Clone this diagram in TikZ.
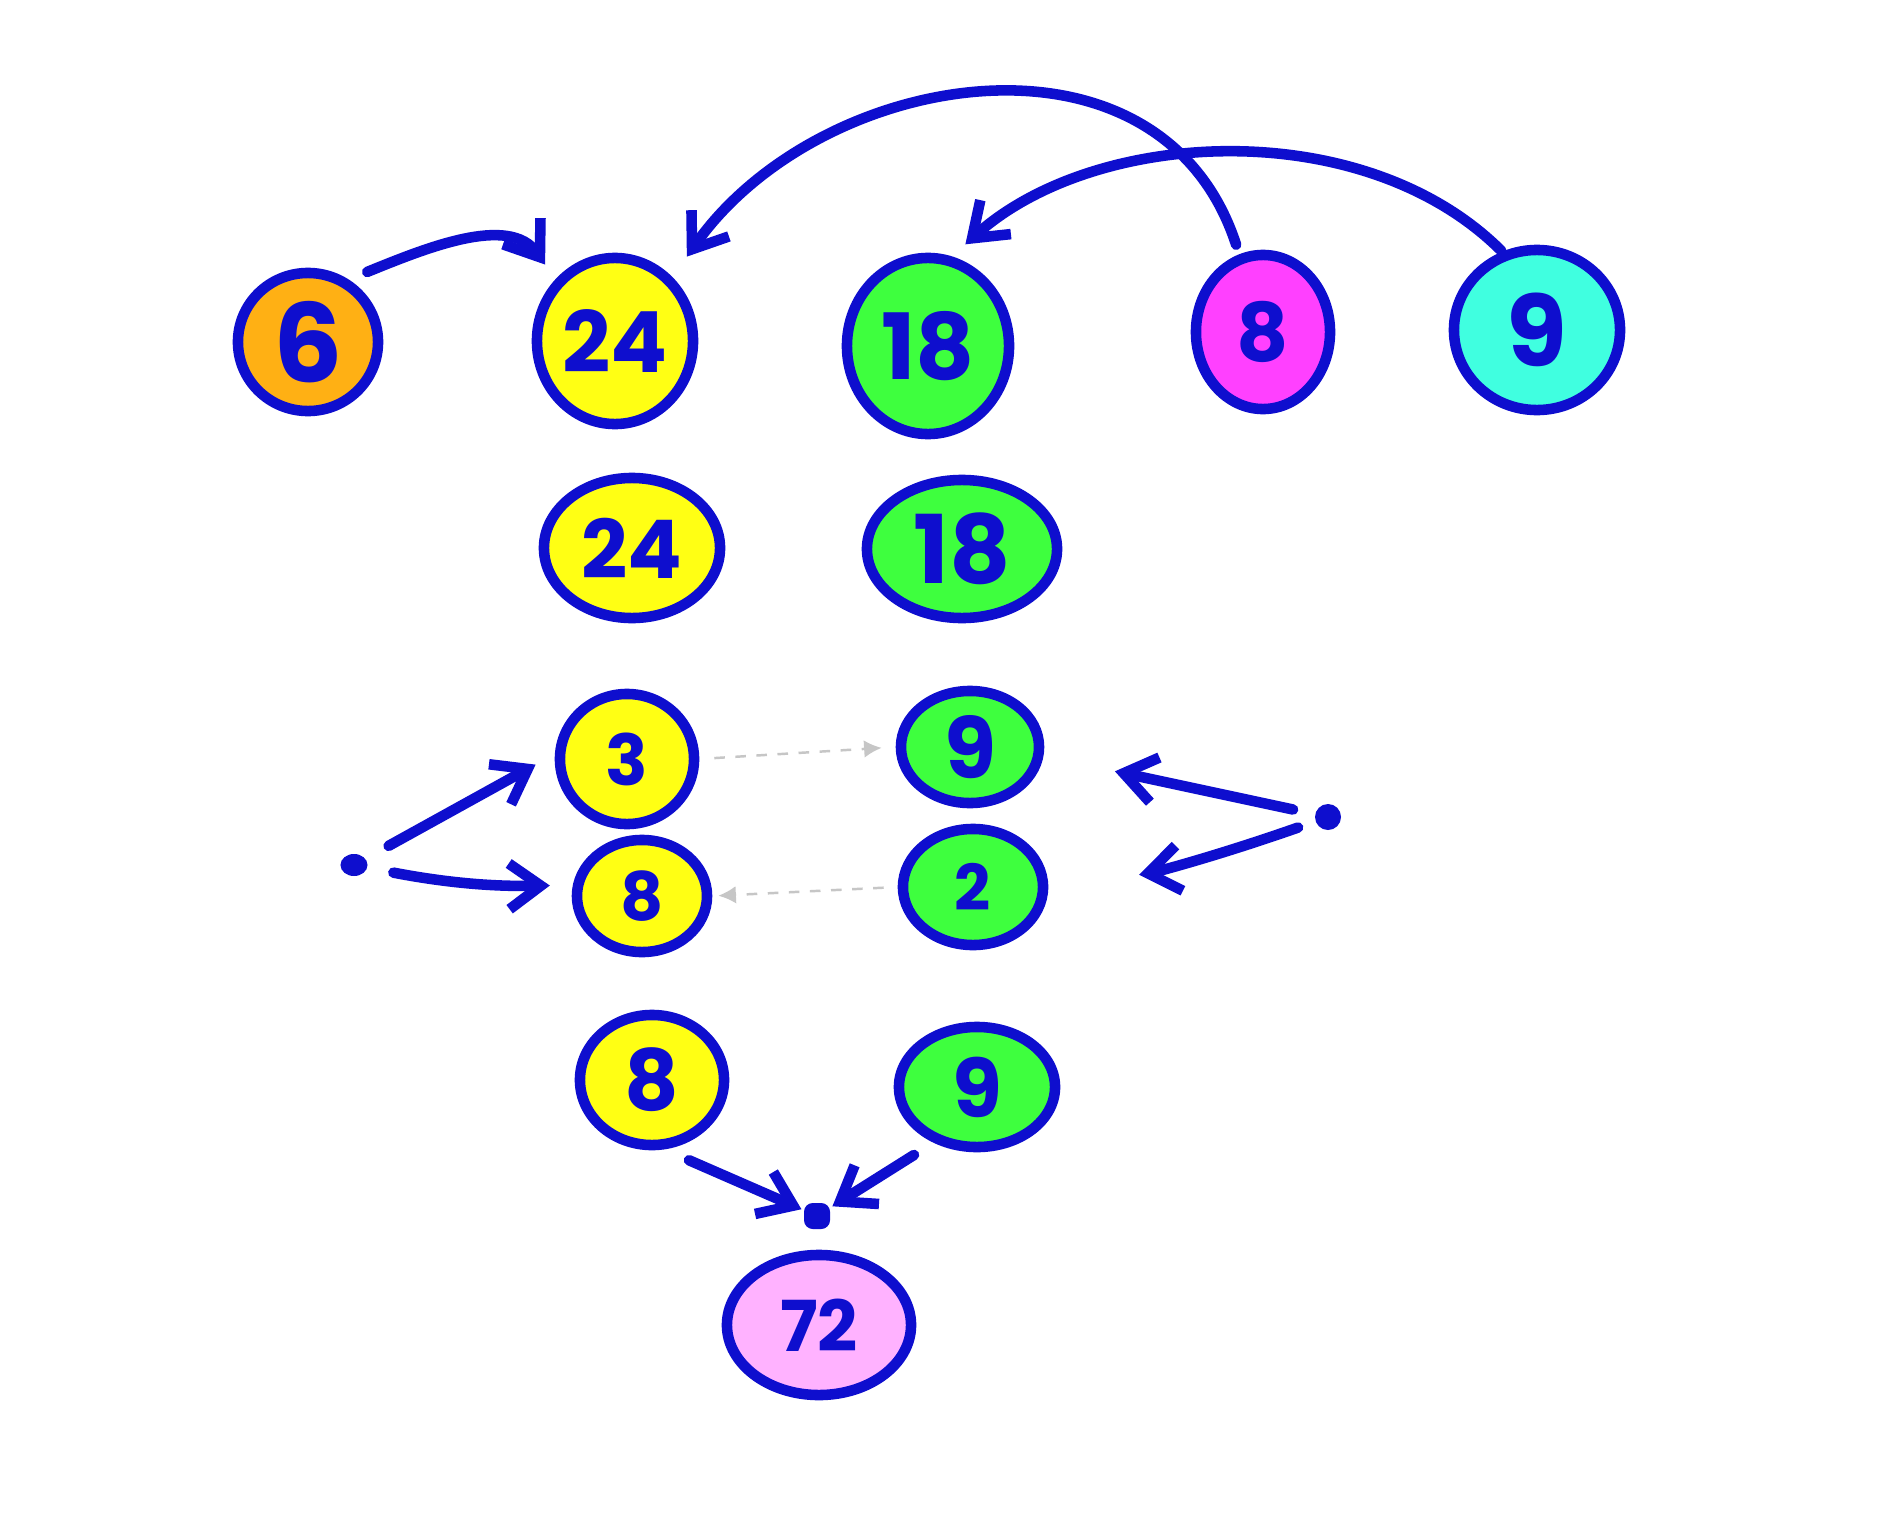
\documentclass[tikz,border=0pt]{standalone}
\usepackage{fontspec}
\setmainfont{Poppins}
\usetikzlibrary{shapes.geometric,arrows.meta}
\definecolor{ink}{RGB}{14,14,206}
\definecolor{corange}{RGB}{255,176,20}
\definecolor{cyellow}{RGB}{255,255,20}
\definecolor{cgreen}{RGB}{62,255,62}
\definecolor{cmagenta}{RGB}{255,64,255}
\definecolor{ccyan}{RGB}{64,255,224}
\definecolor{cpink}{RGB}{255,178,255}
\newcommand{\fsz}[1]{\fontsize{#1}{#1}\selectfont}
\begin{document}
\begin{tikzpicture}[x=0.01cm,y=-0.01cm,
  egg/.style={ellipse,draw=ink,line width=3pt,inner sep=0pt,text=ink,font=\bfseries},
  arr/.style={draw=ink,line width=3pt,line cap=round,-{Straight Barb[length=9pt,width=13pt,line width=3pt]}},
  ghost/.style={draw=gray!45,line width=0.7pt,dashed,-{Latex[length=5pt,width=5pt]}},
  blob/.style={fill=ink,draw=none,inner sep=0pt}]
\useasboundingbox (0,0) rectangle (1884,1518);
\fill[white] (0,0) rectangle (1884,1518);

% top row
\node[egg,fill=corange,minimum width=1.40cm,minimum height=1.38cm] (n6) at (308,342) {\fsz{31}6};
\node[egg,fill=cyellow,minimum width=1.56cm,minimum height=1.66cm] (n24a) at (615,341) {\fsz{24}24};
\node[egg,fill=cgreen,minimum width=1.62cm,minimum height=1.76cm] (n18a) at (928,346) {\fsz{26}18};
\node[egg,fill=cmagenta,minimum width=1.34cm,minimum height=1.54cm] (n8a) at (1263,332) {\fsz{23}8};
\node[egg,fill=ccyan,minimum width=1.66cm,minimum height=1.60cm] (n9a) at (1537,330) {\fsz{28}9};

% second row
\node[egg,fill=cyellow,minimum width=1.76cm,minimum height=1.40cm] (n24b) at (632,548) {\fsz{23}24};
\node[egg,fill=cgreen,minimum width=1.90cm,minimum height=1.38cm] (n18b) at (962,549) {\fsz{27}18};

% middle block
\node[egg,fill=cyellow,minimum width=1.34cm,minimum height=1.30cm] (n3) at (627,759) {\fsz{20}3};
\node[egg,fill=cgreen,minimum width=1.38cm,minimum height=1.12cm] (n9b) at (970,747) {\fsz{24}9};
\node[egg,fill=cyellow,minimum width=1.30cm,minimum height=1.12cm] (n8b) at (642,896) {\fsz{19}8};
\node[egg,fill=cgreen,minimum width=1.40cm,minimum height=1.16cm] (n2) at (973,887) {\fsz{18}2};

% bottom row
\node[egg,fill=cyellow,minimum width=1.44cm,minimum height=1.30cm] (n8c) at (652,1080) {\fsz{24}8};
\node[egg,fill=cgreen,minimum width=1.56cm,minimum height=1.20cm] (n9c) at (977,1087) {\fsz{23}9};
\node[egg,fill=cpink,minimum width=1.84cm,minimum height=1.40cm] (n72) at (819,1325) {\fsz{20}72};

% dots
\node[blob,ellipse,minimum width=0.27cm,minimum height=0.22cm] (dL) at (354,865) {};
\node[blob,circle,minimum size=0.26cm] (dR) at (1328,817) {};
\node[blob,rectangle,rounded corners=2.5pt,minimum size=0.26cm] (dB) at (817,1216) {};

% curved arrows at the top
\draw[arr,shorten <=0.2cm,shorten >=0.18cm] (n6.57) to[out=22,in=125] (n24a.134);
\draw[arr,shorten <=0.1cm,shorten >=0.25cm] (n8a.107) to[out=108,in=55,looseness=1.15] (n24a.48);
\draw[arr,shorten <=0.01cm,shorten >=0.18cm] (n9a.114) to[out=135,in=42,looseness=0.9] (n18a.75);

% arrows from the dots
\draw[arr,shorten <=0.26cm,shorten >=0.22cm] (dL) -- (n3.176);
\draw[arr,shorten <=0.26cm,shorten >=0.23cm] (dL) to[bend right=6] (n8b.171);
\draw[arr,shorten <=0.22cm,shorten >=0.73cm] (dR) -- (n9b.-7);
\draw[arr,shorten <=0.18cm,shorten >=0.92cm] (dR) to[bend left=5] (n2.-2);

% arrows into the bottom dot
\draw[arr,shorten <=0.27cm,shorten >=0.02cm] (n8c.-80) -- (dB);
\draw[arr,shorten <=0.23cm,shorten >=0.02cm] (n9c.-128) -- (dB);

% faint dashed arrows
\draw[ghost,shorten <=0.15cm,shorten >=0.14cm] (n3.east) -- (n9b.west);
\draw[ghost,shorten <=0.14cm,shorten >=0.06cm] (n2.west) -- (n8b.east);
\end{tikzpicture}
\end{document}
